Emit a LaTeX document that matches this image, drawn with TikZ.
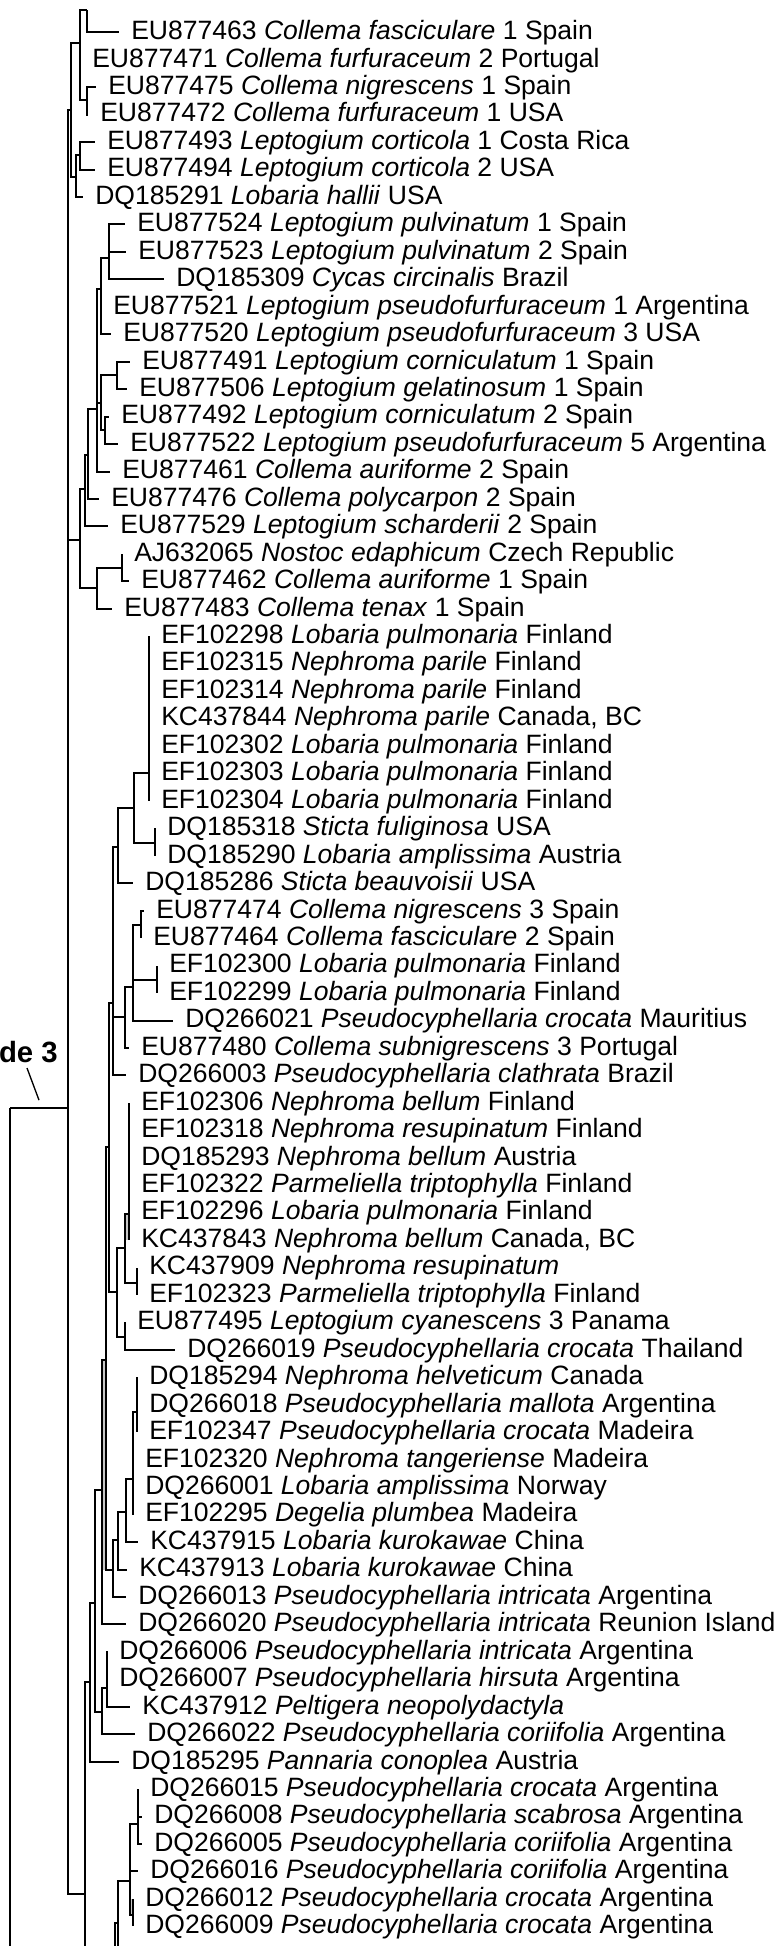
\documentclass[tikz,border=0pt]{standalone}
\usepackage{fontspec}
\setmainfont{Liberation Sans}
\usepackage{tikz}
\usetikzlibrary{positioning}

\newcommand{\taxon}[1]{\textit{#1}}

\begin{document}
\begin{tikzpicture}[
    % x counts pixels, y counts leaf rows
    x=0.75pt, y=-20.5875pt,
    branch/.style={
        draw=black,
        line width=1.5pt
    },
    band/.style={
        fill=gray!45
    },
    leaf/.style={
        anchor=west,
        inner xsep=9pt,
        inner ysep=0pt,
        text height=14pt,
        text depth=3pt,
        font=\fontsize{19.9}{22}\selectfont
    },
    cladelabel/.style={
        anchor=east,
        inner sep=0pt,
        font=\fontsize{22}{24}\selectfont\bfseries
    },
    tickline/.style={
        draw=black,
        line width=1pt
    }
]
\useasboundingbox (0,-0.1767) rectangle (783,70.716);
\clip (0,-0.1767) rectangle (783,70.716);

% --- Leaves ---
\node[leaf] (l1) at (119,1) {EU877463 \taxon{Collema fasciculare} 1 Spain};
\node[leaf] (l2) at (80,2) {EU877471 \taxon{Collema furfuraceum} 2 Portugal};
\node[leaf] (l3) at (96,3) {EU877475 \taxon{Collema nigrescens} 1 Spain};
\node[leaf] (l4) at (88,4) {EU877472 \taxon{Collema furfuraceum} 1 USA};
\node[leaf] (l5) at (95,5) {EU877493 \taxon{Leptogium corticola} 1 Costa Rica};
\node[leaf] (l6) at (95,6) {EU877494 \taxon{Leptogium corticola} 2 USA};
\node[leaf] (l7) at (83,7) {DQ185291 \taxon{Lobaria hallii} USA};
\node[leaf] (l8) at (125,8) {EU877524 \taxon{Leptogium pulvinatum} 1 Spain};
\node[leaf] (l9) at (126,9) {EU877523 \taxon{Leptogium pulvinatum} 2 Spain};
\node[leaf] (l10) at (164,10) {DQ185309 \taxon{Cycas circinalis} Brazil};
\node[leaf] (l11) at (101,11) {EU877521 \taxon{Leptogium pseudofurfuraceum} 1 Argentina};
\node[leaf] (l12) at (111,12) {EU877520 \taxon{Leptogium pseudofurfuraceum} 3 USA};
\node[leaf] (l13) at (130,13) {EU877491 \taxon{Leptogium corniculatum} 1 Spain};
\node[leaf] (l14) at (127,14) {EU877506 \taxon{Leptogium gelatinosum} 1 Spain};
\node[leaf] (l15) at (109,15) {EU877492 \taxon{Leptogium corniculatum} 2 Spain};
\node[leaf] (l16) at (118,16) {EU877522 \taxon{Leptogium pseudofurfuraceum} 5 Argentina};
\node[leaf] (l17) at (110,17) {EU877461 \taxon{Collema auriforme} 2 Spain};
\node[leaf] (l18) at (99,18) {EU877476 \taxon{Collema polycarpon} 2 Spain};
\node[leaf] (l19) at (108,19) {EU877529 \taxon{Leptogium scharderii} 2 Spain};
\node[leaf] (l20) at (122,20) {AJ632065 \taxon{Nostoc edaphicum} Czech Republic};
\node[leaf] (l21) at (129,21) {EU877462 \taxon{Collema auriforme} 1 Spain};
\node[leaf] (l22) at (112,22) {EU877483 \taxon{Collema tenax} 1 Spain};
\node[leaf] (l23) at (149,23) {EF102298 \taxon{Lobaria pulmonaria} Finland};
\node[leaf] (l24) at (149,24) {EF102315 \taxon{Nephroma parile} Finland};
\node[leaf] (l25) at (149,25) {EF102314 \taxon{Nephroma parile} Finland};
\node[leaf] (l26) at (149,26) {KC437844 \taxon{Nephroma parile} Canada, BC};
\node[leaf] (l27) at (149,27) {EF102302 \taxon{Lobaria pulmonaria} Finland};
\node[leaf] (l28) at (149,28) {EF102303 \taxon{Lobaria pulmonaria} Finland};
\node[leaf] (l29) at (149,29) {EF102304 \taxon{Lobaria pulmonaria} Finland};
\node[leaf] (l30) at (155,30) {DQ185318 \taxon{Sticta fuliginosa} USA};
\node[leaf] (l31) at (155,31) {DQ185290 \taxon{Lobaria amplissima} Austria};
\node[leaf] (l32) at (133,32) {DQ185286 \taxon{Sticta beauvoisii} USA};
\node[leaf] (l33) at (144,33) {EU877474 \taxon{Collema nigrescens} 3 Spain};
\node[leaf] (l34) at (141,34) {EU877464 \taxon{Collema fasciculare} 2 Spain};
\node[leaf] (l35) at (157,35) {EF102300 \taxon{Lobaria pulmonaria} Finland};
\node[leaf] (l36) at (157,36) {EF102299 \taxon{Lobaria pulmonaria} Finland};
\node[leaf] (l37) at (173,37) {DQ266021 \taxon{Pseudocyphellaria crocata} Mauritius};
\node[leaf] (l38) at (129,38) {EU877480 \taxon{Collema subnigrescens} 3 Portugal};
\node[leaf] (l39) at (126,39) {DQ266003 \taxon{Pseudocyphellaria clathrata} Brazil};
\node[leaf] (l40) at (129,40) {EF102306 \taxon{Nephroma bellum} Finland};
\node[leaf] (l41) at (129,41) {EF102318 \taxon{Nephroma resupinatum} Finland};
\node[leaf] (l42) at (129,42) {DQ185293 \taxon{Nephroma bellum} Austria};
\node[leaf] (l43) at (129,43) {EF102322 \taxon{Parmeliella triptophylla} Finland};
\node[leaf] (l44) at (129,44) {EF102296 \taxon{Lobaria pulmonaria} Finland};
\node[leaf] (l45) at (129,45) {KC437843 \taxon{Nephroma bellum} Canada, BC};
\node[leaf] (l46) at (137,46) {KC437909 \taxon{Nephroma resupinatum}};
\node[leaf] (l47) at (137,47) {EF102323 \taxon{Parmeliella triptophylla} Finland};
\node[leaf] (l48) at (125,48) {EU877495 \taxon{Leptogium cyanescens} 3 Panama};
\node[leaf] (l49) at (175,49) {DQ266019 \taxon{Pseudocyphellaria crocata} Thailand};
\node[leaf] (l50) at (137,50) {DQ185294 \taxon{Nephroma helveticum} Canada};
\node[leaf] (l51) at (137,51) {DQ266018 \taxon{Pseudocyphellaria mallota} Argentina};
\node[leaf] (l52) at (137,52) {EF102347 \taxon{Pseudocyphellaria crocata} Madeira};
\node[leaf] (l53) at (133,53) {EF102320 \taxon{Nephroma tangeriense} Madeira};
\node[leaf] (l54) at (133,54) {DQ266001 \taxon{Lobaria amplissima} Norway};
\node[leaf] (l55) at (133,55) {EF102295 \taxon{Degelia plumbea} Madeira};
\node[leaf] (l56) at (138,56) {KC437915 \taxon{Lobaria kurokawae} China};
\node[leaf] (l57) at (127,57) {KC437913 \taxon{Lobaria kurokawae} China};
\node[leaf] (l58) at (126,58) {DQ266013 \taxon{Pseudocyphellaria intricata} Argentina};
\node[leaf] (l59) at (126,59) {DQ266020 \taxon{Pseudocyphellaria intricata} Reunion Island};
\node[leaf] (l60) at (107,60) {DQ266006 \taxon{Pseudocyphellaria intricata} Argentina};
\node[leaf] (l61) at (107,61) {DQ266007 \taxon{Pseudocyphellaria hirsuta} Argentina};
\node[leaf] (l62) at (130,62) {KC437912 \taxon{Peltigera neopolydactyla}};
\node[leaf] (l63) at (135,63) {DQ266022 \taxon{Pseudocyphellaria coriifolia} Argentina};
\node[leaf] (l64) at (119,64) {DQ185295 \taxon{Pannaria conoplea} Austria};
\node[leaf] (l65) at (138,65) {DQ266015 \taxon{Pseudocyphellaria crocata} Argentina};
\node[leaf] (l66) at (142,66) {DQ266008 \taxon{Pseudocyphellaria scabrosa} Argentina};
\node[leaf] (l67) at (142,67) {DQ266005 \taxon{Pseudocyphellaria coriifolia} Argentina};
\node[leaf] (l68) at (138,68) {DQ266016 \taxon{Pseudocyphellaria coriifolia} Argentina};
\node[leaf] (l69) at (133,69) {DQ266012 \taxon{Pseudocyphellaria crocata} Argentina};
\node[leaf] (l70) at (133,70) {DQ266009 \taxon{Pseudocyphellaria crocata} Argentina};

% --- Internal nodes ---
\coordinate (root) at (10,40.19);
\coordinate (rootend) at (10,71);
\coordinate (ntop) at (68,40.19);
\coordinate (na) at (71,3.83);
\coordinate (nb) at (80,1.39);
\coordinate (nbi) at (87,0.19);
\coordinate (nbii) at (87,3.47);
\coordinate (nc) at (76,6.27);
\coordinate (nci) at (80,5.47);
\coordinate (nk) at (80,19.49);
\coordinate (nh) at (85,17.64);
\coordinate (ng) at (88,16.40);
\coordinate (nf) at (97,14.72);
\coordinate (nd) at (101,10.35);
\coordinate (ndi) at (109,9.22);
\coordinate (ne) at (101,14.50);
\coordinate (nei) at (117,13.48);
\coordinate (neii) at (105,15.49);
\coordinate (ni) at (97,21.24);
\coordinate (nj) at (122,20.51);
\coordinate (n13) at (85,68.82);
\coordinate (n13end) at (85,71);
\coordinate (n12) at (90,61.10);
\coordinate (n9) at (95,58.22);
\coordinate (n8) at (102,54.10);
\coordinate (nt) at (106,49.37);
\coordinate (ns) at (109,41.61);
\coordinate (no) at (113,36.36);
\coordinate (nn) at (118,30.68);
\coordinate (nl) at (134,29.26);
\coordinate (p23) at (149,27.98);
\coordinate (nm) at (155,30.53);
\coordinate (nr) at (125,36.87);
\coordinate (np) at (133,35.78);
\coordinate (p33) at (141,33.52);
\coordinate (nq) at (157,35.52);
\coordinate (nu) at (117,46.89);
\coordinate (nv) at (125,45.29);
\coordinate (p40) at (129,44.05);
\coordinate (nx) at (137,46.56);
\coordinate (nw) at (125,48.53);
\coordinate (n7) at (113,57.02);
\coordinate (n6) at (118,55.93);
\coordinate (n5) at (126,54.90);
\coordinate (p53) at (133,53.70);
\coordinate (p50) at (137,51.26);
\coordinate (n10) at (101.7,62.19);
\coordinate (n11) at (106.5,61.30);
\coordinate (n14) at (115,71);
\coordinate (n15) at (118,69.88);
\coordinate (n15end) at (118,71);
\coordinate (n16) at (130,68.35);
\coordinate (p65) at (138,66.27);
\coordinate (n17) at (133,69.59);

% --- Grey bands where two branches nearly touch ---
\fill[band] (125,44.05) rectangle (129,45);
\fill[band] (102,49.37) rectangle (106,57.02);
\fill[band] (130,69) rectangle (133,69.59);

% --- Branches ---
\draw[branch] (root) -- (rootend) (root) -- (ntop);
\draw[branch] (ntop) |- (na) (ntop) |- (nk) (ntop) |- (n13);
% upper Collema / Leptogium part
\draw[branch] (na) |- (nb) (na) |- (nc);
\draw[branch] (nb) |- (nbi) (nb) |- (l2.west) (nb) |- (nbii);
\draw[branch] (nbi) |- (l1.west);
\draw[branch] (nbii) |- (l3.west) (nbii) |- (l4.west);
\draw[branch] (nc) |- (nci) (nc) |- (l7.west);
\draw[branch] (nci) |- (l5.west) (nci) |- (l6.west);
\draw[branch] (nk) |- (nh) (nk) |- (ni);
\draw[branch] (nh) |- (ng) (nh) |- (l19.west);
\draw[branch] (ng) |- (nf) (ng) |- (l18.west);
\draw[branch] (nf) |- (nd) (nf) |- (ne) (nf) |- (l17.west);
\draw[branch] (nd) |- (ndi) (nd) |- (l11.west) (nd) |- (l12.west);
\draw[branch] (ndi) |- (l8.west) (ndi) |- (l9.west) (ndi) |- (l10.west);
\draw[branch] (ne) |- (nei) (ne) |- (neii);
\draw[branch] (nei) |- (l13.west) (nei) |- (l14.west);
\draw[branch] (neii) |- (l15.west) (neii) |- (l16.west);
\draw[branch] (ni) |- (nj) (ni) |- (l22.west);
\draw[branch] (nj) |- (l20.west) (nj) |- (l21.west);
% lower part
\draw[branch] (n13) |- (n12) (n13) -- (n13end);
\draw[branch] (n12) |- (n9) (n12) |- (l64.west);
\draw[branch] (n9) |- (n8) (n9) |- (n10);
\draw[branch] (n8) |- (nt) (n8) |- (l59.west);
\draw[branch] (nt) |- (ns) (nt) |- (n7);
\draw[branch] (ns) |- (no) (ns) |- (nu);
\draw[branch] (no) |- (nn) (no) |- (nr) (no) |- (l39.west);
\draw[branch] (nn) |- (nl) (nn) |- (l32.west);
\draw[branch] (nl) |- (p23) (nl) |- (nm);
\draw[branch] (p23) |- (l23.west) (p23) |- (l29.west);
\draw[branch] (nm) |- (l30.west) (nm) |- (l31.west);
\draw[branch] (nr) |- (np) (nr) |- (l38.west);
\draw[branch] (np) |- (p33) (np) |- (nq) (np) |- (l37.west);
\draw[branch] (p33) |- (l33.west) (p33) |- (l34.west);
\draw[branch] (nq) |- (l35.west) (nq) |- (l36.west);
\draw[branch] (nu) |- (nv) (nu) |- (nw);
\draw[branch] (nv) |- (p40) (nv) |- (nx);
\draw[branch] (p40) |- (l40.west) (p40) |- (l45.west);
\draw[branch] (nx) |- (l46.west) (nx) |- (l47.west);
\draw[branch] (nw) |- (l48.west) (nw) |- (l49.west);
\draw[branch] (n7) |- (n6) (n7) |- (l58.west);
\draw[branch] (n6) |- (n5) (n6) |- (l57.west);
\draw[branch] (n5) |- (p53) (n5) |- (l56.west);
\draw[branch] (p53) |- (p50) (p53) |- (l55.west);
\draw[branch] (p50) |- (l50.west) (p50) |- (l52.west);
\draw[branch] (n10) |- (n11) (n10) |- (l63.west);
\draw[branch] (n11) |- (l60.west) (n11) |- (l62.west);
\draw[branch] (n14) |- (n15);
\draw[branch] (n15) |- (n16) (n15) -- (n15end);
\draw[branch] (n16) |- (p65) (n16) |- (l68.west) (n16) |- (n17);
\draw[branch] (p65) |- (l65.west) (p65) |- (l66.west) (p65) |- (l67.west);
\draw[branch] (n17) |- (l69.west) (n17) |- (l70.west);

% --- Clade label ---
\node[cladelabel] (clade) at (58,38.15) {Clade 3};
\coordinate (tickA) at (27,38.73);
\coordinate (tickB) at (39,39.90);
\draw[tickline] (tickA) -- (tickB);

\end{tikzpicture}
\end{document}
